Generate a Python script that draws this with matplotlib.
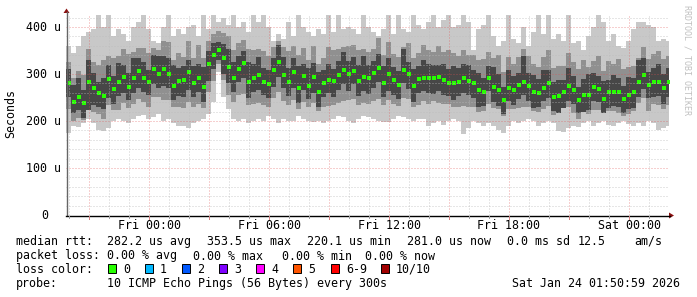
import numpy as np
import matplotlib
matplotlib.use('Agg')
import matplotlib.pyplot as plt
from matplotlib.patches import Polygon, Rectangle
from matplotlib.lines import Line2D

W, H = 697, 297

# time axis: hours relative to Fri 00:00, one bin every 15 minutes from Thu 19:51
t_start = -4.15
step = 0.25

# median rtt per bin (microseconds)
med = [280, 241, 252, 238, 284, 270, 259, 254, 289, 268, 284, 294, 273, 292, 306, 291, 284, 310, 300, 310,
       299, 275, 285, 287, 305, 280, 291, 273, 321, 340, 351, 333, 315, 291, 310, 323, 284, 291, 298, 284,
       279, 308, 326, 298, 284, 305, 271, 296, 275, 294, 262, 280, 287, 285, 298, 308, 299, 306, 285, 294,
       292, 303, 312, 280, 299, 287, 276, 308, 301, 275, 289, 292, 291, 292, 294, 287, 281, 280, 284, 291,
       285, 280, 265, 262, 291, 273, 266, 245, 271, 266, 277, 284, 274, 262, 259, 271, 281, 252, 253, 262,
       274, 266, 245, 255, 255, 273, 268, 247, 262, 262, 261, 246, 255, 262, 284, 298, 277, 282, 284, 271, 283]

# slowest and fastest ping per bin (outer smoke)
hi = [360, 345, 360, 380, 390, 395, 425, 400, 425, 380, 395, 385, 370, 400, 410, 425, 395, 370, 365, 400,
      425, 380, 395, 385, 400, 405, 380, 425, 395, 425, 410, 420, 405, 425, 400, 410, 390, 425, 410, 425,
      400, 370, 385, 375, 410, 380, 425, 400, 390, 380, 395, 385, 425, 390, 425, 395, 400, 395, 385, 425,
      400, 390, 380, 395, 425, 385, 425, 395, 390, 425, 405, 395, 410, 425, 400, 415, 425, 400, 405, 425,
      410, 350, 395, 405, 425, 380, 360, 370, 425, 375, 365, 400, 360, 390, 425, 385, 425, 375, 385, 370,
      425, 365, 370, 350, 380, 400, 425, 410, 370, 385, 360, 355, 370, 395, 410, 410, 405, 400, 370, 375, 370]
lo = [175, 190, 188, 195, 205, 195, 180, 178, 185, 200, 205, 200, 195, 205, 210, 212, 205, 208, 215, 200,
      205, 195, 190, 190, 185, 195, 200, 205, 215, 240, 305, 250, 225, 205, 200, 205, 195, 200, 205, 200,
      210, 205, 195, 205, 200, 200, 210, 205, 200, 198, 200, 195, 200, 205, 210, 208, 200, 196, 205, 210,
      208, 205, 200, 198, 197, 205, 210, 208, 205, 200, 205, 205, 190, 195, 200, 192, 200, 205, 200, 172,
      185, 200, 195, 190, 195, 190, 180, 175, 190, 200, 195, 200, 205, 200, 190, 195, 200, 195, 178, 177,
      185, 190, 188, 195, 200, 190, 195, 200, 192, 190, 195, 200, 193, 190, 195, 190, 200, 195, 180, 185, 190]

# middle pings, distance above / below the median
mid_up = [45, 50, 55, 60, 70, 55, 60, 75, 50, 65, 55, 60, 70, 55, 50, 65, 60, 45, 50, 60,
          70, 55, 60, 50, 65, 55, 70, 60, 50, 45, 40, 55, 65, 60, 55, 50, 70, 60, 55, 65,
          60, 50, 45, 60, 65, 55, 70, 60, 55, 65, 60, 55, 70, 65, 55, 50, 60, 55, 65, 60,
          55, 50, 65, 60, 70, 55, 60, 50, 65, 60, 55, 70, 60, 55, 65, 60, 70, 65, 55, 60,
          55, 60, 65, 70, 55, 60, 75, 60, 65, 55, 60, 70, 65, 60, 55, 65, 70, 60, 65, 55,
          70, 60, 65, 75, 60, 55, 70, 60, 65, 60, 70, 65, 60, 55, 50, 60, 55, 60, 65, 60, 55]
mid_dn = [55, 40, 45, 35, 60, 50, 45, 50, 55, 45, 60, 55, 45, 55, 60, 50, 55, 60, 50, 65,
          55, 45, 55, 60, 65, 50, 55, 45, 60, 55, 30, 45, 60, 50, 55, 65, 50, 55, 60, 50,
          50, 60, 65, 55, 50, 60, 45, 55, 45, 55, 40, 50, 55, 50, 60, 65, 55, 60, 50, 55,
          55, 60, 65, 45, 55, 50, 45, 60, 55, 45, 55, 50, 55, 50, 55, 50, 45, 50, 55, 60,
          55, 50, 45, 40, 55, 45, 40, 35, 45, 40, 50, 55, 45, 40, 40, 45, 50, 40, 35, 35,
          45, 50, 40, 35, 40, 50, 45, 30, 40, 40, 45, 35, 40, 40, 45, 50, 55, 45, 50, 45, 50]

# pings closest to the median (dark core)
core_up = [30, 35, 40, 28, 45, 32, 25, 38, 30, 28, 40, 25, 30, 42, 28, 35, 25, 30, 38, 28,
           35, 45, 28, 30, 25, 38, 30, 42, 28, 25, 18, 30, 38, 35, 28, 25, 42, 30, 38, 28,
           30, 25, 35, 38, 28, 30, 45, 25, 38, 30, 42, 28, 35, 25, 30, 38, 28, 30, 35, 45,
           28, 25, 30, 38, 35, 28, 30, 45, 25, 35, 28, 38, 30, 28, 25, 35, 30, 38, 28, 30,
           35, 28, 38, 30, 25, 42, 35, 28, 38, 30, 25, 55, 28, 35, 30, 38, 28, 30, 35, 25,
           38, 30, 28, 35, 45, 30, 28, 38, 25, 35, 30, 28, 38, 30, 45, 35, 28, 30, 38, 28, 30]
core_dn = [30, 25, 28, 32, 60, 35, 30, 28, 40, 32, 30, 35, 28, 32, 35, 30, 28, 32, 30, 35,
           28, 30, 32, 35, 40, 28, 30, 32, 35, 30, 22, 32, 35, 30, 28, 32, 35, 30, 32, 28,
           30, 35, 32, 28, 30, 35, 32, 30, 28, 35, 32, 30, 28, 35, 32, 30, 35, 28, 32, 30,
           35, 32, 28, 30, 35, 32, 30, 28, 32, 35, 30, 28, 32, 35, 30, 32, 28, 35, 30, 32,
           30, 32, 35, 30, 28, 32, 35, 30, 28, 32, 30, 28, 32, 35, 30, 28, 32, 30, 35, 45,
           32, 30, 28, 35, 32, 30, 28, 32, 35, 30, 32, 28, 30, 35, 32, 30, 28, 32, 30, 35, 32]

y_ticks = [0, 100, 200, 300, 400]
y_tick_labels = ['0', '100 u', '200 u', '300 u', '400 u']
x_label_hours = [0, 6, 12, 18, 24]
x_labels = ['Fri 00:00', 'Fri 06:00', 'Fri 12:00', 'Fri 18:00', 'Sat 00:00']

loss_labels = ['0', '1', '2', '3', '4', '5', '6-9', '10/10']
loss_colors = ['#26ff00', '#00b8ff', '#0059ff', '#7e00ff', '#ff00ff', '#ff5500', '#ff0000', '#a10000']
loss_box_x = [108, 145, 182, 219, 256, 293, 331, 381]

MONO = 'DejaVu Sans Mono'
FS = 8.4


def fx(x):
    return x / W


def fy(y):
    return 1 - y / H


med = np.array(med, dtype=float)
hi = np.array(hi, dtype=float)
lo = np.array(lo, dtype=float)
mhi = np.minimum(med + np.array(mid_up), hi)
mlo = np.maximum(med - np.array(mid_dn), lo)
ihi = np.minimum(med + np.array(core_up), mhi)
ilo = np.maximum(med - np.array(core_dn), mlo)

edges = t_start + step * np.arange(len(med) + 1)
centers = edges[:-1] + step / 2

fig = plt.figure(figsize=(W / 100, H / 100), dpi=100)
fig.patch.set_facecolor('white')
ax = fig.add_axes([66 / W, (H - 215) / H, 603 / W, 200 / H])
ax.set_xlim(t_start, 26.0)
ax.set_ylim(0, 425.5)
ax.axis('off')

# smoke
ax.stairs(hi, edges, baseline=lo, fill=True, color='#c8c8c8', lw=0, zorder=1)
ax.stairs(mhi, edges, baseline=mlo, fill=True, color='#909090', lw=0, zorder=1.2)
ax.stairs(ihi, edges, baseline=ilo, fill=True, color='#474747', lw=0, zorder=1.4)
ax.plot(centers, med, ls='none', marker='s', ms=2.2, mew=0, color='#26ff00', zorder=2)

# grid on top of the data
dots = (0, (1, 2))
for v in range(20, 426, 20):
    if v % 100 == 0:
        ax.axhline(v, color='#e05050', alpha=0.55, lw=0.72, ls=dots, zorder=3)
    else:
        ax.axhline(v, color='#bababa', alpha=0.7, lw=0.72, ls=dots, zorder=3)
for h in range(-4, 26):
    if h % 3 == 0:
        ax.axvline(h, color='#e05050', alpha=0.55, lw=0.72, ls=dots, zorder=3)
    else:
        ax.axvline(h, color='#bababa', alpha=0.7, lw=0.72, ls=dots, zorder=3)

# axes with arrows
fig.add_artist(Line2D([fx(66.5), fx(66.5)], [fy(215), fy(12)], color='#666666', lw=1))
fig.add_artist(Line2D([fx(66), fx(670)], [fy(215.5), fy(215.5)], color='#000000', lw=1))
fig.add_artist(Polygon([[fx(63.5), fy(13)], [fx(69.5), fy(13)], [fx(66.5), fy(8.5)]],
                       closed=True, color='#8b1010', lw=0))
fig.add_artist(Polygon([[fx(669), fy(212.5)], [fx(669), fy(218.5)], [fx(674), fy(215.5)]],
                       closed=True, color='#8b1010', lw=0))

# small ticks under the time axis
for h in range(-4, 26):
    x = 149 + 20 * h
    length = 3 if h % 3 == 0 else 2
    col = '#d08080' if h % 3 == 0 else '#a0a0a0'
    fig.add_artist(Line2D([fx(x), fx(x)], [fy(216), fy(216 + length)], color=col, lw=0.72))

# tick labels
for v, lab in zip(y_ticks, y_tick_labels):
    y = 215 - v * 0.47
    xr = 61 if lab != '0' else 48
    fig.text(fx(xr), fy(y + 4), lab, ha='right', va='baseline', family=MONO, size=FS)
for hh, lab in zip(x_label_hours, x_labels):
    fig.text(fx(149 + 20 * hh), fy(229), lab, ha='center', va='baseline', family=MONO, size=FS)

fig.text(fx(11), fy(113.5), 'Seconds', rotation=90, ha='center', va='center', family=MONO, size=FS)
fig.text(fx(687.5), fy(5), 'RRDTOOL / TOBI OETIKER', rotation=270, ha='center', va='top',
         family=MONO, size=6, color='#c0c0c0')

# legend block
line1 = [(16, 'median rtt:'), (107, '282.2 us avg'), (207, '353.5 us max'), (307, '220.1 us min'),
         (407, '281.0 us now'), (507, '0.0 ms sd'), (578, '12.5'), (634, 'am/s')]
line2 = [(16, 'packet loss:'), (107, '0.00 % avg'), (193, '0.00 % max'), (282, '0.00 % min'),
         (365, '0.00 % now')]
for x, s in line1:
    fig.text(fx(x), fy(245), s, ha='left', va='baseline', family=MONO, size=FS)
for x, s in line2:
    fig.text(fx(x), fy(259.5), s, ha='left', va='baseline', family=MONO, size=FS)

fig.text(fx(16), fy(273), 'loss color:', ha='left', va='baseline', family=MONO, size=FS)
for bx, lab, col in zip(loss_box_x, loss_labels, loss_colors):
    fig.add_artist(Rectangle((fx(bx), fy(272.5)), 8 / W, 8.5 / H, facecolor=col,
                             edgecolor='black', lw=0.7))
    fig.text(fx(bx + 15), fy(273), lab, ha='left', va='baseline', family=MONO, size=FS)

fig.text(fx(16), fy(287), 'probe:', ha='left', va='baseline', family=MONO, size=FS)
fig.text(fx(107), fy(287), '10 ICMP Echo Pings (56 Bytes) every 300s', ha='left', va='baseline',
         family=MONO, size=FS)
fig.text(fx(680), fy(287), 'Sat Jan 24 01:50:59 2026', ha='right', va='baseline', family=MONO, size=FS)

fig.savefig('out.png', dpi=100)
